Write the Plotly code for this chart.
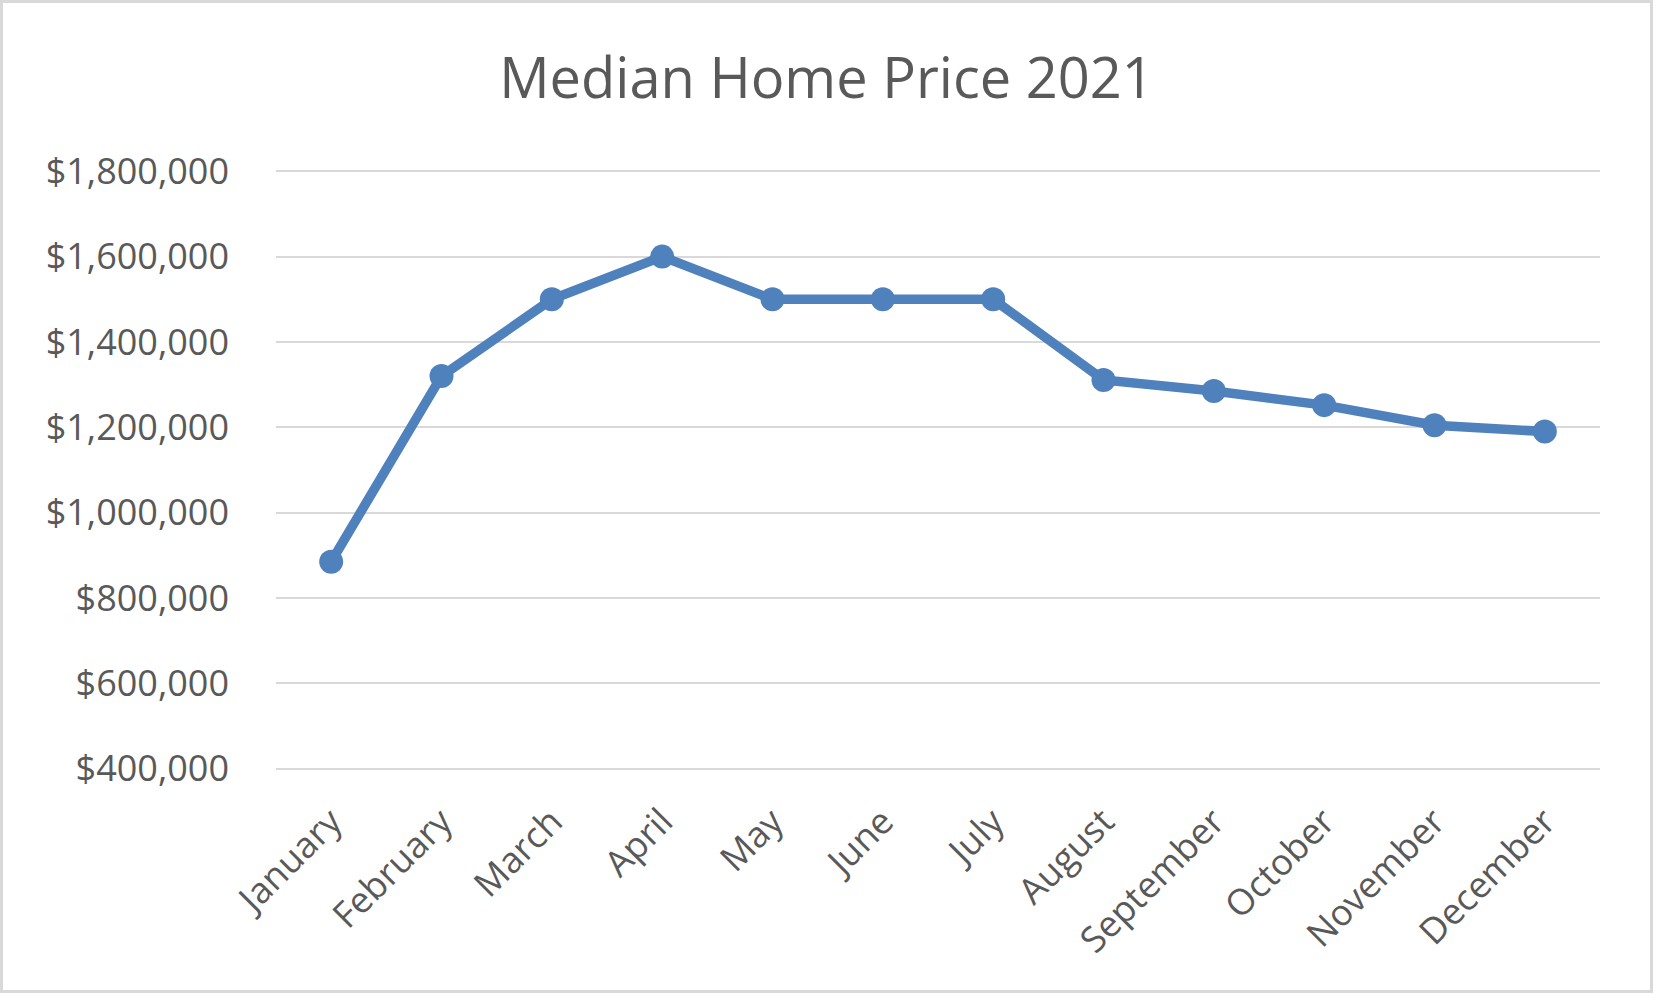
import plotly.graph_objects as go

months = ["January", "February", "March", "April", "May", "June", "July",
          "August", "September", "October", "November", "December"]
prices = [885000, 1320000, 1500000, 1600000, 1500000, 1500000, 1500000,
          1311000, 1285000, 1252000, 1205000, 1190000]
y_ticks = [400000, 600000, 800000, 1000000, 1200000, 1400000, 1600000, 1800000]
y_tick_labels = ["$400,000", "$600,000", "$800,000", "$1,000,000", "$1,200,000",
                 "$1,400,000", "$1,600,000", "$1,800,000"]
title_text = "Median Home Price 2021"

W, H = 1653, 993
ML, MR, MT, MB = 276, 53, 167, 220
pw, ph = W - ML - MR, H - MT - MB

fig = go.Figure()
fig.add_trace(go.Scatter(
    x=months, y=prices, mode="lines+markers",
    line=dict(color="#4f81bd", width=9.5),
    marker=dict(color="#4f81bd", size=24),
    showlegend=False, hoverinfo="x+y",
))

font_family = "Open Sans, DejaVu Sans, sans-serif"
fig.update_layout(
    width=W, height=H,
    margin=dict(l=ML, r=MR, t=MT, b=MB, pad=0),
    paper_bgcolor="white", plot_bgcolor="white",
    title=dict(text=title_text, x=0.5, xanchor="center", xref="container",
               y=1 - 78 / H, yanchor="middle", yref="container",
               font=dict(family=font_family, size=56, color="#595959")),
    font=dict(family=font_family, color="#595959"),
    xaxis=dict(
        type="category", range=[-0.5, 11.5], showgrid=False, zeroline=False,
        showline=False, tickangle=-45, ticks="outside", ticklen=12,
        tickcolor="rgba(0,0,0,0)",
        tickfont=dict(family=font_family, size=36, color="#595959"),
    ),
    yaxis=dict(
        range=[390000, 1810000], tickvals=y_ticks, ticktext=y_tick_labels,
        showgrid=True, gridcolor="#d9d9d9", gridwidth=2, zeroline=False,
        showline=False, ticks="", ticklabelstandoff=46,
        tickfont=dict(family=font_family, size=36, color="#595959"),
    ),
)

# outer chart frame
bw = 3
fig.add_shape(
    type="rect", xref="paper", yref="paper",
    x0=(bw / 2 - ML) / pw, x1=(W - bw / 2 - ML) / pw,
    y0=(bw / 2 - MB) / ph, y1=(H - bw / 2 - MB) / ph,
    line=dict(color="#d9d9d9", width=bw), fillcolor="rgba(0,0,0,0)",
    layer="below",
)

fig.write_html("out.html")
